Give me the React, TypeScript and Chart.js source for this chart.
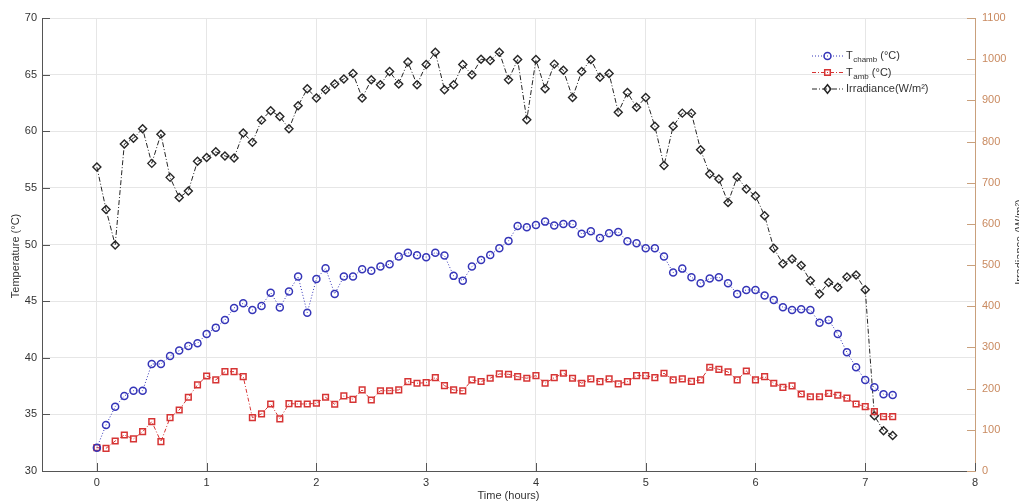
import React, { useEffect, useRef } from "react";
import { Chart, registerables } from "chart.js";

Chart.register(...registerables);

// ---- data (time in minutes, 5-minute sampling) ----
const timeMinutes = [
  0, 5, 10, 15, 20, 25, 30, 35, 40, 45, 50, 55,
  60, 65, 70, 75, 80, 85, 90, 95, 100, 105, 110, 115,
  120, 125, 130, 135, 140, 145, 150, 155, 160, 165, 170, 175,
  180, 185, 190, 195, 200, 205, 210, 215, 220, 225, 230, 235,
  240, 245, 250, 255, 260, 265, 270, 275, 280, 285, 290, 295,
  300, 305, 310, 315, 320, 325, 330, 335, 340, 345, 350, 355,
  360, 365, 370, 375, 380, 385, 390, 395, 400, 405, 410, 415,
  420, 425, 430, 435,
];

const tChamb = [
  32.06, 34.06, 35.68, 36.63, 37.09, 37.09, 39.45, 39.45, 40.16, 40.63,
  41.04, 41.28, 42.10, 42.66, 43.34, 44.40, 44.81, 44.22, 44.58, 45.75,
  44.43, 45.84, 47.17, 43.98, 46.96, 47.90, 45.64, 47.17, 47.17, 47.82,
  47.69, 48.05, 48.26, 48.93, 49.28, 49.05, 48.88, 49.28, 49.02, 47.23,
  46.81, 48.05, 48.64, 49.08, 49.67, 50.32, 51.64, 51.53, 51.73, 52.02,
  51.67, 51.82, 51.82, 50.94, 51.17, 50.58, 51.00, 51.11, 50.29, 50.11,
  49.67, 49.67, 48.93, 47.52, 47.87, 47.11, 46.58, 46.99, 47.11, 46.58,
  45.64, 45.99, 45.99, 45.49, 45.11, 44.46, 44.22, 44.28, 44.22, 43.10,
  43.34, 42.10, 40.48, 39.16, 38.04, 37.39, 36.78, 36.71,
];

const tAmb = [
  32.06, 32.00, 32.65, 33.18, 32.83, 33.47, 34.36, 32.59, 34.71, 35.39,
  36.51, 37.60, 38.39, 38.04, 38.77, 38.77, 38.33, 34.71, 35.04, 35.92,
  34.60, 35.95, 35.92, 35.92, 35.98, 36.51, 35.89, 36.63, 36.33, 37.16,
  36.27, 37.09, 37.09, 37.16, 37.89, 37.75, 37.80, 38.24, 37.54, 37.16,
  37.07, 38.04, 37.90, 38.19, 38.57, 38.54, 38.33, 38.19, 38.42, 37.75,
  38.24, 38.63, 38.19, 37.75, 38.13, 37.89, 38.13, 37.69, 37.89, 38.42,
  38.42, 38.24, 38.63, 38.04, 38.13, 37.92, 38.04, 39.16, 38.98, 38.75,
  38.04, 38.83, 38.04, 38.33, 37.75, 37.39, 37.51, 36.80, 36.56, 36.56,
  36.86, 36.69, 36.43, 35.92, 35.68, 35.24, 34.80, 34.80,
];

const irradiance = [
  738, 635, 549, 794, 808, 831, 747, 818, 713, 664,
  680, 752, 761, 775, 765, 760, 821, 798, 852, 875,
  861, 831, 887, 928, 906, 926, 940, 952, 965, 906,
  950, 938, 970, 940, 993, 938, 987, 1017, 926, 938,
  987, 962, 1000, 997, 1017, 950, 999, 853, 999, 928,
  988, 973, 907, 970, 999, 956, 965, 871, 919, 883,
  907, 837, 742, 837, 869, 869, 780, 721, 709, 652,
  714, 685, 668, 620, 541, 503, 515, 499, 462, 430,
  458, 446, 471, 476, 440, 134, 98, 86,
];

const xTicks = [0, 1, 2, 3, 4, 5, 6, 7, 8];
const tempTicks = [30, 35, 40, 45, 50, 55, 60, 65, 70];
const irrTicks = [0, 100, 200, 300, 400, 500, 600, 700, 800, 900, 1000, 1100];

const W = 1019;
const H = 503;
const FONT = '"Liberation Sans", Arial, Helvetica, sans-serif';
const TEXT = "#333333";
const AXIS = "#555555";
const GRID = "#e6e6e6";
const RIGHT_TEXT = "#c98a60";
const RIGHT_LINE = "#c9a07c";
const BLUE = "#3535b8";
const RED = "#d63434";
const BLACK = "#262626";

function drawMarker(ctx: CanvasRenderingContext2D, kind: string, x: number, y: number, color: string) {
  ctx.save();
  ctx.setLineDash([]);
  ctx.strokeStyle = color;
  ctx.lineWidth = 1.5;
  ctx.beginPath();
  if (kind === "circle") {
    ctx.arc(x, y, 3.5, 0, Math.PI * 2);
  } else if (kind === "square") {
    ctx.rect(x - 2.8, y - 2.8, 5.6, 5.6);
  } else {
    ctx.moveTo(x, y - 4.2);
    ctx.lineTo(x + 3.4, y);
    ctx.lineTo(x, y + 4.2);
    ctx.lineTo(x - 3.4, y);
    ctx.closePath();
  }
  ctx.stroke();
  ctx.restore();
}

const legendEntries = [
  { color: BLUE, dash: [1, 2], marker: "circle", main: "T", sub: "chamb", rest: " (°C)", y: 56 },
  { color: RED, dash: [4, 2, 1, 2], marker: "square", main: "T", sub: "amb", rest: " (°C)", y: 72.5 },
  { color: BLACK, dash: [5, 2, 1, 2], marker: "diamond", main: "Irradiance(W/m²)", sub: "", rest: "", y: 89 },
];

const decorPlugin = {
  id: "decor",
  afterDraw(chart: any) {
    const ctx: CanvasRenderingContext2D = chart.ctx;
    const { x, y, y1 } = chart.scales;
    const area = chart.chartArea;
    ctx.save();
    // inward tick marks
    ctx.lineWidth = 1;
    ctx.setLineDash([]);
    ctx.strokeStyle = AXIS;
    ctx.beginPath();
    xTicks.forEach((v) => {
      const px = Math.round(x.getPixelForValue(v)) + 0.5;
      ctx.moveTo(px, area.bottom);
      ctx.lineTo(px, area.bottom - 8);
    });
    tempTicks.forEach((v) => {
      const py = Math.round(y.getPixelForValue(v)) + 0.5;
      ctx.moveTo(area.left, py);
      ctx.lineTo(area.left + 8, py);
    });
    ctx.stroke();
    ctx.strokeStyle = RIGHT_LINE;
    ctx.beginPath();
    irrTicks.forEach((v) => {
      const py = Math.round(y1.getPixelForValue(v)) + 0.5;
      ctx.moveTo(area.right, py);
      ctx.lineTo(area.right - 8, py);
    });
    ctx.stroke();

    // axis titles (left and clipped right)
    ctx.fillStyle = TEXT;
    ctx.font = `11px ${FONT}`;
    ctx.textAlign = "center";
    ctx.textBaseline = "middle";
    ctx.save();
    ctx.translate(16, 256);
    ctx.rotate(-Math.PI / 2);
    ctx.fillText("Temperature (°C)", 0, 0);
    ctx.restore();
    ctx.save();
    ctx.translate(1020, 242);
    ctx.rotate(-Math.PI / 2);
    ctx.fillText("Irradiance (W/m²)", 0, 0);
    ctx.restore();

    // legend
    legendEntries.forEach((e) => {
      ctx.save();
      ctx.strokeStyle = e.color;
      ctx.lineWidth = 1;
      ctx.setLineDash(e.dash);
      ctx.beginPath();
      ctx.moveTo(812, e.y);
      ctx.lineTo(843, e.y);
      ctx.stroke();
      ctx.restore();
      drawMarker(ctx, e.marker, 827.5, e.y, e.color);
      ctx.fillStyle = TEXT;
      ctx.textAlign = "left";
      ctx.textBaseline = "middle";
      ctx.font = `11px ${FONT}`;
      let tx = 846;
      ctx.fillText(e.main, tx, e.y);
      tx += ctx.measureText(e.main).width;
      if (e.sub) {
        ctx.font = `8px ${FONT}`;
        ctx.fillText(e.sub, tx + 0.5, e.y + 4);
        tx += ctx.measureText(e.sub).width + 0.5;
        ctx.font = `11px ${FONT}`;
      }
      if (e.rest) ctx.fillText(e.rest, tx, e.y);
    });
    ctx.restore();
  },
};

export default function App() {
  const ref = useRef<HTMLCanvasElement | null>(null);

  useEffect(() => {
    if (!ref.current) return;
    const toPts = (vals: number[]) => timeMinutes.map((m, i) => ({ x: m / 60, y: vals[i] }));
    const chart = new Chart(ref.current, {
      type: "line",
      data: {
        datasets: [
          {
            label: "Tchamb (°C)",
            data: toPts(tChamb),
            yAxisID: "y",
            borderColor: BLUE,
            borderWidth: 1,
            borderDash: [1, 2],
            pointStyle: "circle",
            pointRadius: 3.5,
            pointBorderWidth: 1.5,
            pointBorderColor: BLUE,
            pointBackgroundColor: "rgba(0,0,0,0)",
            fill: false,
            tension: 0,
          },
          {
            label: "Tamb (°C)",
            data: toPts(tAmb),
            yAxisID: "y",
            borderColor: RED,
            borderWidth: 1,
            borderDash: [4, 2, 1, 2],
            pointStyle: "rect",
            pointRadius: 4,
            pointBorderWidth: 1.5,
            pointBorderColor: RED,
            pointBackgroundColor: "rgba(0,0,0,0)",
            fill: false,
            tension: 0,
          },
          {
            label: "Irradiance(W/m²)",
            data: toPts(irradiance),
            yAxisID: "y1",
            borderColor: BLACK,
            borderWidth: 1,
            borderDash: [5, 2, 1, 2],
            pointStyle: "rectRot",
            pointRadius: 4,
            pointBorderWidth: 1.4,
            pointBorderColor: BLACK,
            pointBackgroundColor: "rgba(0,0,0,0)",
            fill: false,
            tension: 0,
          },
        ],
      },
      options: {
        animation: false,
        responsive: false,
        maintainAspectRatio: false,
        layout: { padding: { top: 18, left: 0, right: 0, bottom: 0 } },
        plugins: { legend: { display: false }, tooltip: { enabled: false } },
        scales: {
          x: {
            type: "linear",
            position: "bottom",
            min: -0.5,
            max: 8,
            afterBuildTicks: (axis: any) => {
              axis.ticks = xTicks.map((v) => ({ value: v }));
            },
            afterFit: (axis: any) => {
              axis.height = 32;
            },
            grid: { color: GRID, drawTicks: false, lineWidth: 1 },
            border: { color: AXIS, width: 1 },
            ticks: {
              color: TEXT,
              font: { family: FONT, size: 11 },
              padding: 5,
              maxRotation: 0,
              autoSkip: false,
              callback: (v: any) => String(v),
            },
            title: {
              display: true,
              text: "Time (hours)",
              color: TEXT,
              font: { family: FONT, size: 11 },
              padding: { top: 0, bottom: 0 },
            },
          },
          y: {
            type: "linear",
            position: "left",
            min: 30,
            max: 70,
            afterBuildTicks: (axis: any) => {
              axis.ticks = tempTicks.map((v) => ({ value: v }));
            },
            afterFit: (axis: any) => {
              axis.width = 42;
            },
            grid: { color: GRID, drawTicks: false, lineWidth: 1 },
            border: { color: AXIS, width: 1 },
            ticks: {
              color: TEXT,
              font: { family: FONT, size: 11 },
              padding: 5,
              callback: (v: any) => String(v),
            },
          },
          y1: {
            type: "linear",
            position: "right",
            min: 0,
            max: 1100,
            afterBuildTicks: (axis: any) => {
              axis.ticks = irrTicks.map((v) => ({ value: v }));
            },
            afterFit: (axis: any) => {
              axis.width = W - 975;
            },
            grid: { drawOnChartArea: false, drawTicks: false },
            border: { color: RIGHT_LINE, width: 1 },
            ticks: {
              color: RIGHT_TEXT,
              font: { family: FONT, size: 11 },
              padding: 7,
              callback: (v: any) => String(v),
            },
          },
        },
      },
      plugins: [decorPlugin],
    } as any);
    return () => chart.destroy();
  }, []);

  return (
    <div
      style={{
        position: "fixed",
        left: 0,
        top: 0,
        width: W,
        height: H,
        overflow: "hidden",
        background: "#ffffff",
      }}
    >
      <canvas ref={ref} width={W} height={H} style={{ display: "block", width: W, height: H }} />
    </div>
  );
}
